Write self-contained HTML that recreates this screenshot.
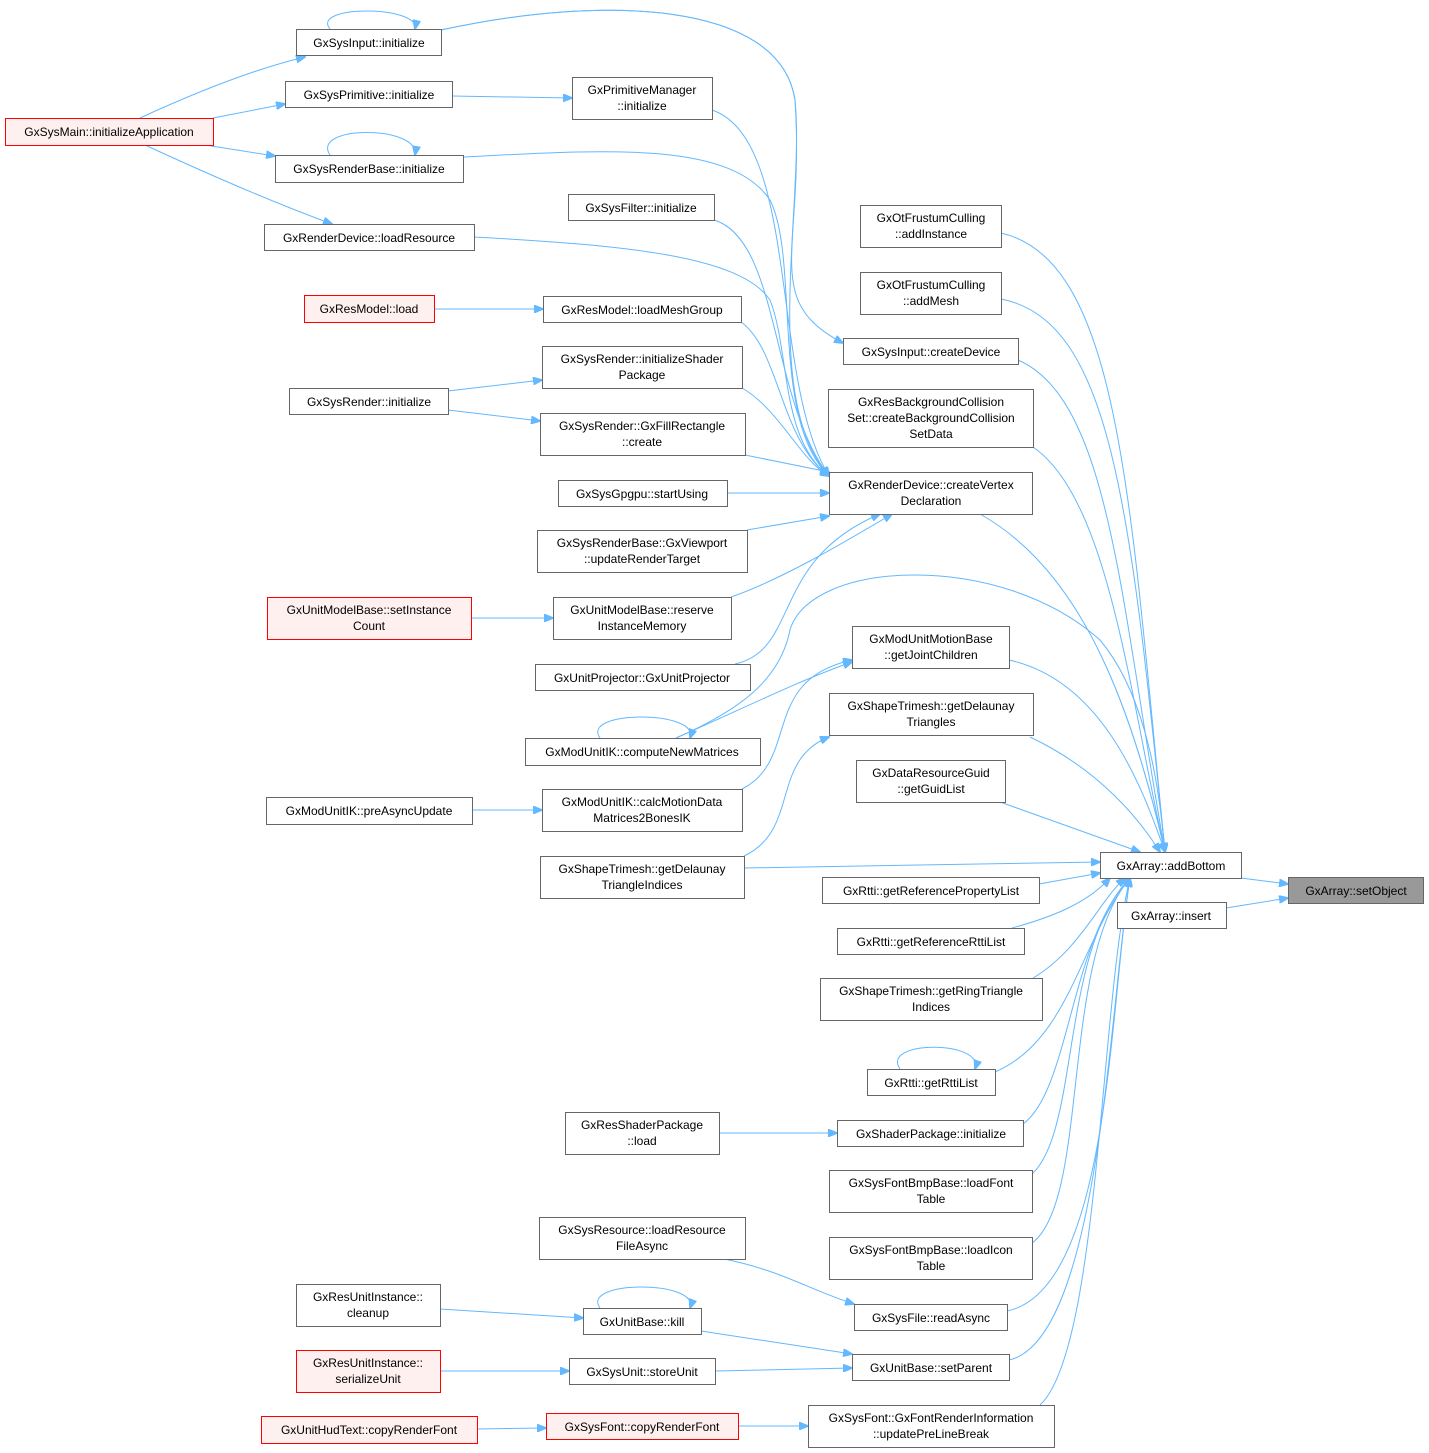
<!DOCTYPE html>
<html><head><meta charset="utf-8"><style>
html,body{margin:0;padding:0;background:#fff;}
svg{display:block;}
text{font-family:"Liberation Sans",sans-serif;font-size:12px;fill:#000;text-anchor:middle;}
.n{fill:#fff;stroke:#666;stroke-width:1;}
.r{fill:#fff0f0;stroke:#f00;stroke-width:1;}
.g{fill:#999;stroke:#666;stroke-width:1;}
.e{fill:none;stroke:#63b8ff;stroke-width:1;}
</style></head><body>
<svg width="1429" height="1453" viewBox="0 0 1429 1453" xmlns="http://www.w3.org/2000/svg">
<defs><marker id="a" markerWidth="10" markerHeight="8" refX="9" refY="4" orient="auto" markerUnits="userSpaceOnUse"><path d="M0,0 L10,4 L0,8 z" fill="#63b8ff" stroke="#63b8ff"/></marker></defs>
<g class="edges">
<!-- initializeApplication -->
<path class="e" marker-end="url(#a)" d="M140,118 C190,95 250,70 305,57"/>
<path class="e" marker-end="url(#a)" d="M213,118 L285,104"/>
<path class="e" marker-end="url(#a)" d="M205,145 L275,156"/>
<path class="e" marker-end="url(#a)" d="M145,145 C210,175 280,205 332,224"/>
<!-- self loops -->
<path class="e" marker-end="url(#a)" d="M330,29 C310,5 420,5 415,29"/>
<path class="e" marker-end="url(#a)" d="M330,155 C310,125 420,125 415,155"/>
<path class="e" marker-end="url(#a)" d="M600,738 C580,710 700,710 690,738"/>
<path class="e" marker-end="url(#a)" d="M900,1069 C880,1040 985,1040 975,1069"/>
<path class="e" marker-end="url(#a)" d="M600,1308 C580,1280 700,1280 690,1308"/>
<!-- col2 -> col3 -->
<path class="e" marker-end="url(#a)" d="M452,96 L572,98"/>
<path class="e" marker-end="url(#a)" d="M434,309 L543,309"/>
<path class="e" marker-end="url(#a)" d="M448,391 L542,380"/>
<path class="e" marker-end="url(#a)" d="M448,410 L540,421"/>
<path class="e" marker-end="url(#a)" d="M471,618 L553,618"/>
<path class="e" marker-end="url(#a)" d="M472,810 L542,810"/>
<path class="e" marker-end="url(#a)" d="M719,1133 L837,1133"/>
<path class="e" marker-end="url(#a)" d="M440,1309 L583,1318"/>
<path class="e" marker-end="url(#a)" d="M440,1371 L569,1371"/>
<path class="e" marker-end="url(#a)" d="M477,1429 L546,1428"/>
<path class="e" marker-end="url(#a)" d="M738,1426 L808,1426"/>
<!-- to createVertexDeclaration -->
<path class="e" marker-end="url(#a)" d="M441,30 C600,-5 780,0 795,100 C805,200 760,400 829,476"/>
<path class="e" marker-end="url(#a)" d="M712,110 C800,140 770,380 829,476"/>
<path class="e" marker-end="url(#a)" d="M463,157 C600,150 730,140 770,200 C800,260 770,420 829,476"/>
<path class="e" marker-end="url(#a)" d="M474,237 C620,245 740,255 770,300 C790,350 780,440 829,476"/>
<path class="e" marker-end="url(#a)" d="M714,220 C780,240 770,400 829,476"/>
<path class="e" marker-end="url(#a)" d="M741,322 C780,350 780,440 829,476"/>
<path class="e" marker-end="url(#a)" d="M742,388 C780,410 800,460 829,476"/>
<path class="e" marker-end="url(#a)" d="M745,455 L829,472"/>
<path class="e" marker-end="url(#a)" d="M727,493 L829,493"/>
<path class="e" marker-end="url(#a)" d="M747,530 L829,516"/>
<path class="e" marker-end="url(#a)" d="M731,597 C780,580 840,545 892,514"/>
<path class="e" marker-end="url(#a)" d="M735,664 C800,650 770,560 880,514"/>
<!-- createDevice -->
<path class="e" marker-end="url(#a)" d="M441,30 C600,-5 780,0 795,100 C805,250 760,300 843,343"/>
<!-- getJointChildren, getDelaunayTriangles -->
<path class="e" marker-end="url(#a)" d="M742,789 C800,760 760,680 852,660"/>
<path class="e" marker-end="url(#a)" d="M676,738 C740,710 800,680 852,662"/>
<path class="e" marker-end="url(#a)" d="M744,856 C800,830 770,760 829,737"/>
<!-- readAsync, setParent -->
<path class="e" marker-end="url(#a)" d="M724,1259 C780,1270 810,1290 854,1304"/>
<path class="e" marker-end="url(#a)" d="M701,1331 L852,1354"/>
<path class="e" marker-end="url(#a)" d="M715,1371 L852,1368"/>
<!-- to addBottom -->
<path class="e" marker-end="url(#a)" d="M1001,233 C1120,260 1130,500 1165,852"/>
<path class="e" marker-end="url(#a)" d="M1001,299 C1110,320 1130,500 1165,852"/>
<path class="e" marker-end="url(#a)" d="M1018,360 C1110,400 1120,600 1165,852"/>
<path class="e" marker-end="url(#a)" d="M1033,447 C1110,500 1130,700 1165,852"/>
<path class="e" marker-end="url(#a)" d="M980,514 C1080,570 1130,700 1165,852"/>
<path class="e" marker-end="url(#a)" d="M676,738 C740,710 780,680 790,630 C810,560 1000,550 1100,640 C1150,700 1160,800 1165,852"/>
<path class="e" marker-end="url(#a)" d="M1009,660 C1100,680 1140,780 1165,852"/>
<path class="e" marker-end="url(#a)" d="M1030,737 C1100,770 1140,820 1160,852"/>
<path class="e" marker-end="url(#a)" d="M1000,802 L1140,852"/>
<path class="e" marker-end="url(#a)" d="M744,868 L1100,862"/>
<path class="e" marker-end="url(#a)" d="M1039,884 L1100,873"/>
<path class="e" marker-end="url(#a)" d="M1012,928 C1060,915 1090,900 1110,878"/>
<path class="e" marker-end="url(#a)" d="M1033,978 C1080,950 1100,900 1125,878"/>
<path class="e" marker-end="url(#a)" d="M995,1072 C1070,1040 1080,940 1130,878"/>
<path class="e" marker-end="url(#a)" d="M1023,1124 C1070,1090 1070,940 1130,878"/>
<path class="e" marker-end="url(#a)" d="M1032,1174 C1080,1130 1060,950 1130,878"/>
<path class="e" marker-end="url(#a)" d="M1032,1243 C1090,1200 1060,960 1130,878"/>
<path class="e" marker-end="url(#a)" d="M1007,1311 C1110,1290 1110,1000 1130,878"/>
<path class="e" marker-end="url(#a)" d="M1009,1360 C1100,1340 1110,1000 1130,878"/>
<path class="e" marker-end="url(#a)" d="M1040,1405 C1100,1350 1100,1000 1130,878"/>
<!-- setObject -->
<path class="e" marker-end="url(#a)" d="M1241,878 L1288,884"/>
<path class="e" marker-end="url(#a)" d="M1226,908 L1288,898"/>
</g>
<g>
<rect class="r" x="5.5" y="118.5" width="208" height="27"/><text x="109" y="136">GxSysMain::initializeApplication</text>
<rect class="r" x="304.5" y="295.5" width="130" height="27"/><text x="369" y="313">GxResModel::load</text>
<rect class="n" x="289.5" y="388.5" width="159" height="26"/><text x="369" y="406">GxSysRender::initialize</text>
<rect class="r" x="267.5" y="597.5" width="204" height="42"/><text x="369" y="614">GxUnitModelBase::setInstance</text><text x="369" y="630">Count</text>
<rect class="n" x="266.5" y="797.5" width="206" height="27"/><text x="369" y="815">GxModUnitIK::preAsyncUpdate</text>
<rect class="n" x="296.5" y="1284.5" width="144" height="42"/><text x="368" y="1301">GxResUnitInstance::</text><text x="368" y="1317">cleanup</text>
<rect class="r" x="296.5" y="1350.5" width="144" height="42"/><text x="368" y="1367">GxResUnitInstance::</text><text x="368" y="1383">serializeUnit</text>
<rect class="r" x="261.5" y="1416.5" width="216" height="27"/><text x="369" y="1434">GxUnitHudText::copyRenderFont</text>

<rect class="n" x="296.5" y="29.5" width="145" height="26"/><text x="369" y="47">GxSysInput::initialize</text>
<rect class="n" x="285.5" y="81.5" width="167" height="26"/><text x="369" y="99">GxSysPrimitive::initialize</text>
<rect class="n" x="275.5" y="155.5" width="188" height="27"/><text x="369" y="173">GxSysRenderBase::initialize</text>
<rect class="n" x="264.5" y="224.5" width="210" height="26"/><text x="369" y="242">GxRenderDevice::loadResource</text>

<rect class="n" x="572.5" y="77.5" width="140" height="42"/><text x="642" y="94">GxPrimitiveManager</text><text x="642" y="110">::initialize</text>
<rect class="n" x="568.5" y="194.5" width="146" height="26"/><text x="641" y="212">GxSysFilter::initialize</text>
<rect class="n" x="543.5" y="296.5" width="198" height="26"/><text x="642" y="314">GxResModel::loadMeshGroup</text>
<rect class="n" x="542.5" y="346.5" width="200" height="42"/><text x="642" y="363">GxSysRender::initializeShader</text><text x="642" y="379">Package</text>
<rect class="n" x="540.5" y="413.5" width="205" height="42"/><text x="642" y="430">GxSysRender::GxFillRectangle</text><text x="642" y="446">::create</text>
<rect class="n" x="558.5" y="480.5" width="169" height="26"/><text x="642" y="498">GxSysGpgpu::startUsing</text>
<rect class="n" x="537.5" y="530.5" width="210" height="42"/><text x="642" y="547">GxSysRenderBase::GxViewport</text><text x="642" y="563">::updateRenderTarget</text>
<rect class="n" x="553.5" y="597.5" width="178" height="42"/><text x="642" y="614">GxUnitModelBase::reserve</text><text x="642" y="630">InstanceMemory</text>
<rect class="n" x="535.5" y="664.5" width="215" height="26"/><text x="642" y="682">GxUnitProjector::GxUnitProjector</text>
<rect class="n" x="525.5" y="738.5" width="235" height="27"/><text x="642" y="756">GxModUnitIK::computeNewMatrices</text>
<rect class="n" x="542.5" y="789.5" width="200" height="42"/><text x="642" y="806">GxModUnitIK::calcMotionData</text><text x="642" y="822">Matrices2BonesIK</text>
<rect class="n" x="540.5" y="856.5" width="204" height="42"/><text x="642" y="873">GxShapeTrimesh::getDelaunay</text><text x="642" y="889">TriangleIndices</text>
<rect class="n" x="565.5" y="1112.5" width="154" height="42"/><text x="642" y="1129">GxResShaderPackage</text><text x="642" y="1145">::load</text>
<rect class="n" x="539.5" y="1217.5" width="206" height="42"/><text x="642" y="1234">GxSysResource::loadResource</text><text x="642" y="1250">FileAsync</text>
<rect class="n" x="583.5" y="1308.5" width="118" height="26"/><text x="642" y="1326">GxUnitBase::kill</text>
<rect class="n" x="569.5" y="1358.5" width="146" height="26"/><text x="642" y="1376">GxSysUnit::storeUnit</text>
<rect class="r" x="546.5" y="1413.5" width="192" height="26"/><text x="642" y="1431">GxSysFont::copyRenderFont</text>

<rect class="n" x="860.5" y="205.5" width="141" height="42"/><text x="931" y="222">GxOtFrustumCulling</text><text x="931" y="238">::addInstance</text>
<rect class="n" x="860.5" y="272.5" width="141" height="42"/><text x="931" y="289">GxOtFrustumCulling</text><text x="931" y="305">::addMesh</text>
<rect class="n" x="843.5" y="338.5" width="175" height="26"/><text x="931" y="356">GxSysInput::createDevice</text>
<rect class="n" x="828.5" y="389.5" width="205" height="58"/><text x="931" y="406">GxResBackgroundCollision</text><text x="931" y="422">Set::createBackgroundCollision</text><text x="931" y="438">SetData</text>
<rect class="n" x="829.5" y="472.5" width="203" height="42"/><text x="931" y="489">GxRenderDevice::createVertex</text><text x="931" y="505">Declaration</text>
<rect class="n" x="852.5" y="626.5" width="157" height="42"/><text x="931" y="643">GxModUnitMotionBase</text><text x="931" y="659">::getJointChildren</text>
<rect class="n" x="829.5" y="693.5" width="204" height="42"/><text x="931" y="710">GxShapeTrimesh::getDelaunay</text><text x="931" y="726">Triangles</text>
<rect class="n" x="856.5" y="760.5" width="149" height="42"/><text x="931" y="777">GxDataResourceGuid</text><text x="931" y="793">::getGuidList</text>
<rect class="n" x="822.5" y="877.5" width="217" height="26"/><text x="931" y="895">GxRtti::getReferencePropertyList</text>
<rect class="n" x="837.5" y="928.5" width="187" height="26"/><text x="931" y="946">GxRtti::getReferenceRttiList</text>
<rect class="n" x="820.5" y="978.5" width="222" height="42"/><text x="931" y="995">GxShapeTrimesh::getRingTriangle</text><text x="931" y="1011">Indices</text>
<rect class="n" x="867.5" y="1069.5" width="128" height="26"/><text x="931" y="1087">GxRtti::getRttiList</text>
<rect class="n" x="837.5" y="1120.5" width="186" height="26"/><text x="931" y="1138">GxShaderPackage::initialize</text>
<rect class="n" x="829.5" y="1170.5" width="203" height="42"/><text x="931" y="1187">GxSysFontBmpBase::loadFont</text><text x="931" y="1203">Table</text>
<rect class="n" x="829.5" y="1237.5" width="203" height="42"/><text x="931" y="1254">GxSysFontBmpBase::loadIcon</text><text x="931" y="1270">Table</text>
<rect class="n" x="854.5" y="1304.5" width="153" height="26"/><text x="931" y="1322">GxSysFile::readAsync</text>
<rect class="n" x="852.5" y="1354.5" width="157" height="26"/><text x="931" y="1372">GxUnitBase::setParent</text>
<rect class="n" x="808.5" y="1405.5" width="246" height="42"/><text x="931" y="1422">GxSysFont::GxFontRenderInformation</text><text x="931" y="1438">::updatePreLineBreak</text>

<rect class="n" x="1100.5" y="852.5" width="141" height="26"/><text x="1171" y="870">GxArray::addBottom</text>
<rect class="n" x="1117.5" y="902.5" width="109" height="26"/><text x="1171" y="920">GxArray::insert</text>
<rect class="g" x="1288.5" y="877.5" width="135" height="26"/><text x="1356" y="895">GxArray::setObject</text>
</g>
</svg>
</body></html>
